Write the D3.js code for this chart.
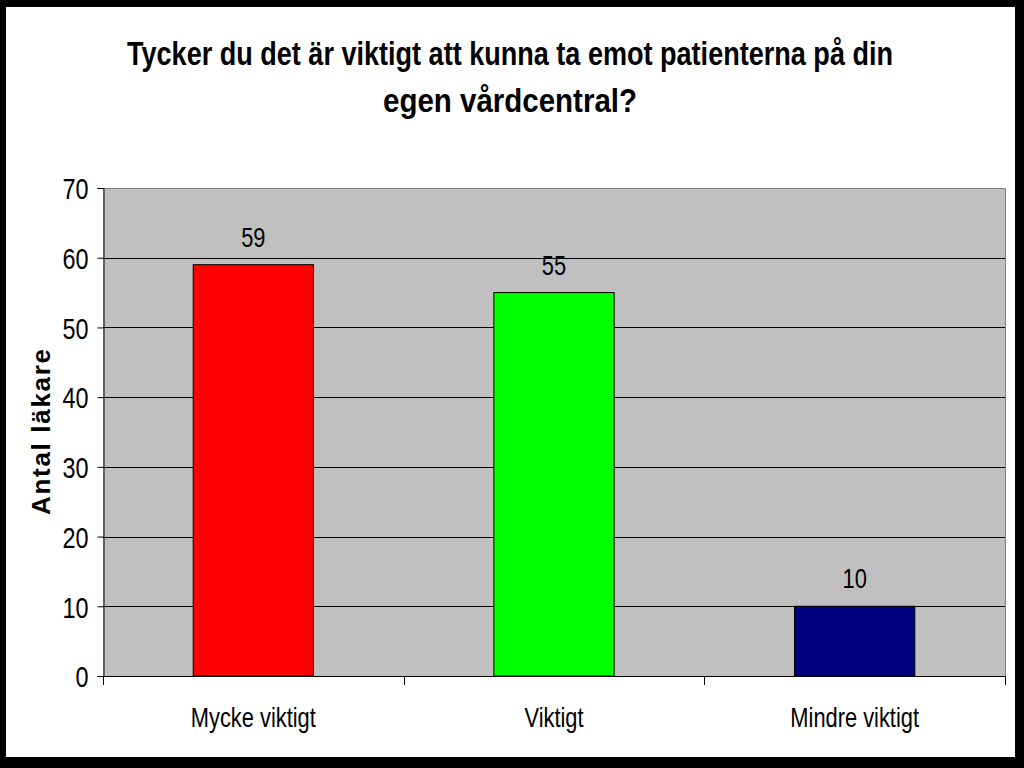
<!DOCTYPE html>
<html><head><meta charset="utf-8">
<script src="https://cdn.jsdelivr.net/npm/d3@7"></script>
<style>html,body{margin:0;padding:0;background:#000;overflow:hidden}</style>
</head><body>
<svg id="c" width="1024" height="768"></svg>
<script>
const categories = ["Mycke viktigt", "Viktigt", "Mindre viktigt"];
const values = [59, 55, 10];
const colors = ["#ff0000", "#00ff00", "#000080"];
const yTicks = [0, 10, 20, 30, 40, 50, 60, 70];
const titleLines = ["Tycker du det är viktigt att kunna ta emot patienterna på din", "egen vårdcentral?"];
const yTitle = "Antal läkare";

const svg = d3.select("#c");
svg.append("rect").attr("width",1024).attr("height",768).attr("fill","#000");
svg.append("rect").attr("x",6).attr("y",7).attr("width",1009).attr("height",750).attr("fill","#fff");

const L=103, R=1005, T=188, B=676;
const x = d3.scaleBand().domain(categories).range([L,R]).paddingInner(0.6).paddingOuter(0.3);
const y = d3.scaleLinear().domain([0,70]).range([B,T]);
const FONT = "'Liberation Sans', Arial, sans-serif";
const condense = (sel, f) => sel.each(function(){ const w=this.getComputedTextLength(); d3.select(this).attr("textLength", w*f).attr("lengthAdjust","spacingAndGlyphs"); });

// plot background
svg.append("rect").attr("x",L).attr("y",T).attr("width",R-L).attr("height",B-T).attr("fill","#c0c0c0");
// gridlines
svg.append("g").selectAll("line").data(yTicks.filter(d=>d>0&&d<70)).join("line")
  .attr("x1",L).attr("x2",R).attr("y1",d=>Math.round(y(d))+0.5).attr("y2",d=>Math.round(y(d))+0.5)
  .attr("stroke","#000").attr("stroke-width",1);
// border top/right
svg.append("path").attr("d",`M${L},${T+0.5}H${R+0.5}V${B}`).attr("fill","none").attr("stroke","#808080").attr("stroke-width",1);

// bars
svg.append("g").selectAll("rect").data(values).join("rect")
  .attr("x",(d,i)=>x(categories[i])).attr("width",x.bandwidth())
  .attr("y",d=>y(d)).attr("height",d=>B-y(d))
  .attr("fill",(d,i)=>colors[i]).attr("stroke","#000").attr("stroke-width",1);

// y axis
const yAxis = d3.axisLeft(y).tickValues(yTicks).tickSize(6).tickPadding(9).tickFormat(d3.format("d"));
const gy = svg.append("g").attr("transform",`translate(${L+0.5},0)`).call(yAxis);
gy.select(".domain").attr("stroke","#000");
gy.selectAll(".tick line").attr("stroke","#000");
gy.selectAll(".tick text").attr("font-family",FONT).attr("font-size",30).attr("fill","#000").attr("dy","0.36em").call(condense,0.78);

// x axis
const xBounds = [L, L+(R-L)/3, L+2*(R-L)/3, R];
const gx = svg.append("g");
gx.append("line").attr("x1",L).attr("x2",R+1).attr("y1",B+0.5).attr("y2",B+0.5).attr("stroke","#000");
gx.selectAll("line.t").data(xBounds).join("line").attr("class","t")
  .attr("x1",d=>Math.round(d)+0.5).attr("x2",d=>Math.round(d)+0.5).attr("y1",B).attr("y2",B+9).attr("stroke","#000");
gx.selectAll("text").data(categories).join("text")
  .attr("x",d=>x(d)+x.bandwidth()/2).attr("y",727).attr("text-anchor","middle")
  .attr("font-family",FONT).attr("font-size",28).attr("fill","#000").text(d=>d).call(condense,0.78);

// data labels
svg.append("g").selectAll("text").data(values).join("text")
  .attr("x",(d,i)=>x(categories[i])+x.bandwidth()/2).attr("y",d=>y(d)-18).attr("text-anchor","middle")
  .attr("font-family",FONT).attr("font-size",28).attr("fill","#000").text(d=>d).call(condense,0.78);

// title
const tw=[766,254];
svg.append("g").selectAll("text").data(titleLines).join("text")
  .attr("x",510).attr("y",(d,i)=>65+i*47).attr("text-anchor","middle")
  .attr("font-family",FONT).attr("font-weight","bold").attr("font-size",33).attr("fill","#000")
  .attr("textLength",(d,i)=>tw[i]).attr("lengthAdjust","spacingAndGlyphs").text(d=>d);

// y title
svg.append("text").attr("transform","translate(50,430) rotate(-90)").attr("text-anchor","middle")
  .attr("font-family",FONT).attr("font-weight","bold").attr("font-size",26).attr("fill","#000")
  .attr("letter-spacing","4px").attr("textLength",170).attr("lengthAdjust","spacing").text(yTitle);
</script>
</body></html>
